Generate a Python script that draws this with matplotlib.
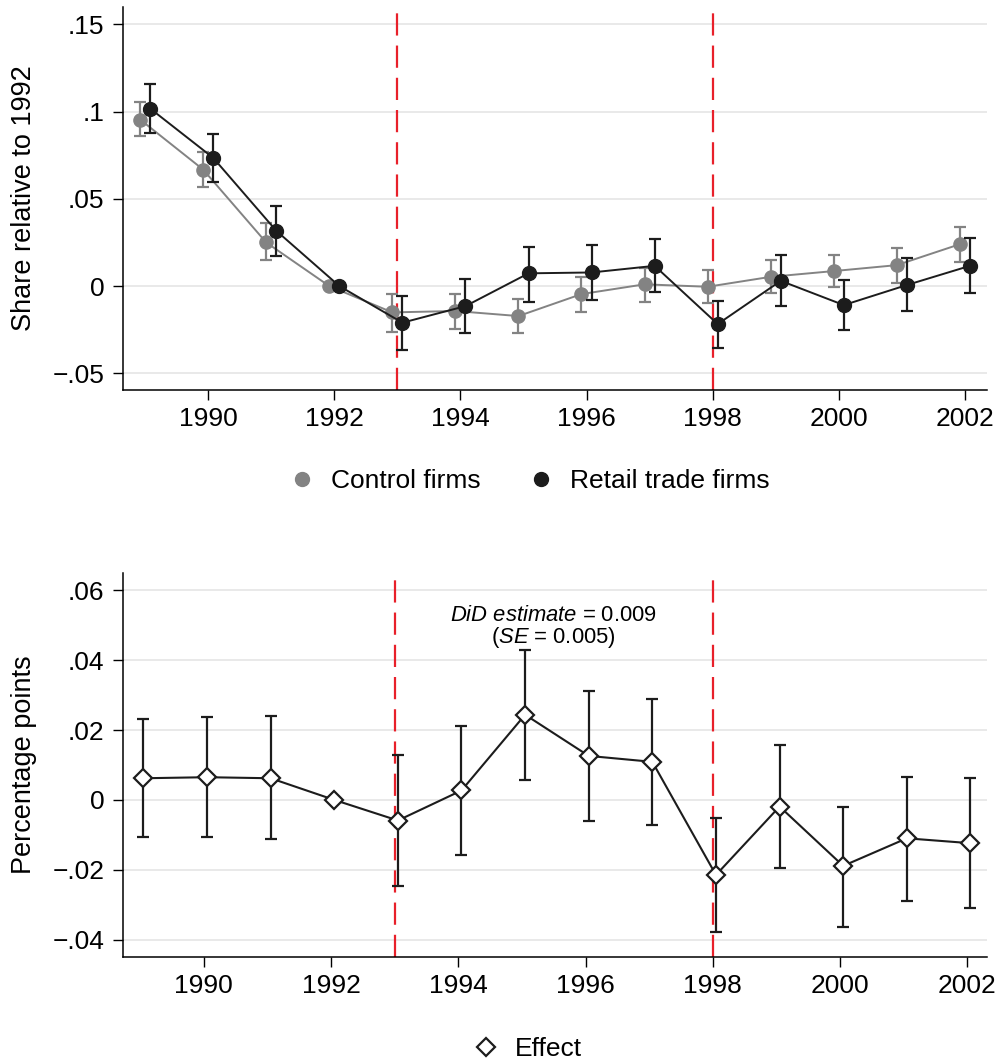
import matplotlib
matplotlib.use("Agg")
import matplotlib.pyplot as plt
from matplotlib.lines import Line2D
import numpy as np

plt.rcParams['font.family'] = ['Liberation Sans', 'DejaVu Sans']
plt.rcParams['mathtext.fontset'] = 'custom'
plt.rcParams['mathtext.rm'] = 'Liberation Sans'
plt.rcParams['mathtext.it'] = 'Liberation Sans:italic'

# data
years = np.arange(1989, 2003)

control = [0.0955, 0.0668, 0.0250, 0.0, -0.0151, -0.0143, -0.0172,
           -0.0046, 0.0010, -0.0004, 0.0053, 0.0086, 0.0120, 0.0240]
control_hi = [0.1056, 0.0769, 0.0359, 0.0, -0.0046, -0.0044, -0.0074,
              0.0053, 0.0105, 0.0092, 0.0149, 0.0178, 0.0216, 0.0340]
control_lo = [0.0859, 0.0569, 0.0149, 0.0, -0.0262, -0.0246, -0.0271,
              -0.0147, -0.0090, -0.0099, -0.0042, -0.0008, 0.0019, 0.0139]

retail = [0.1018, 0.0735, 0.0317, 0.0, -0.0210, -0.0115, 0.0073,
          0.0078, 0.0116, -0.0218, 0.0030, -0.0109, 0.0006, 0.0116]
retail_hi = [0.1157, 0.0874, 0.0458, 0.0, -0.0056, 0.0038, 0.0225,
             0.0235, 0.0269, -0.0086, 0.0178, 0.0034, 0.0159, 0.0273]
retail_lo = [0.0880, 0.0597, 0.0174, 0.0, -0.0367, -0.0271, -0.0090,
             -0.0080, -0.0036, -0.0353, -0.0113, -0.0252, -0.0141, -0.0038]

effect = [0.0062, 0.0065, 0.0062, 0.0, -0.0059, 0.0027, 0.0244,
          0.0126, 0.0109, -0.0215, -0.0019, -0.0189, -0.0110, -0.0124]
effect_hi = [0.0232, 0.0237, 0.0241, 0.0, 0.0129, 0.0212, 0.0428,
             0.0312, 0.0289, -0.0052, 0.0156, -0.0021, 0.0067, 0.0062]
effect_lo = [-0.0105, -0.0105, -0.0113, 0.0, -0.0248, -0.0159, 0.0057,
             -0.0059, -0.0073, -0.0379, -0.0196, -0.0365, -0.0289, -0.0310]

event_years = [1993, 1998]
xticks = [1990, 1992, 1994, 1996, 1998, 2000, 2002]
top_yticks = [-0.05, 0, 0.05, 0.1, 0.15]
top_ylabels = ["\u2212.05", "0", ".05", ".1", ".15"]
bot_yticks = [-0.04, -0.02, 0, 0.02, 0.04, 0.06]
bot_ylabels = ["\u2212.04", "\u2212.02", "0", ".02", ".04", ".06"]

GRAY = "#838383"
BLACK = "#1c1c1c"
RED = "#e8202a"
FS = 19


def style_axes(ax):
    for s in ["top", "right"]:
        ax.spines[s].set_visible(False)
    for s in ["left", "bottom"]:
        ax.spines[s].set_linewidth(1.1)
    ax.tick_params(axis="both", direction="out", length=7.5, width=1.0,
                   labelsize=FS, pad=5)
    ax.tick_params(axis="y", pad=6)
    ax.yaxis.grid(True, color="#e9e9e9", linewidth=1.4)
    ax.set_axisbelow(True)
    ax.set_xticks(xticks)
    for yr in event_years:
        ax.axvline(yr, ymin=0, ymax=0.985, color=RED, linewidth=1.6,
                   dashes=(10, 4.5), zorder=1)


fig = plt.figure(figsize=(10.02, 10.63), dpi=100)

# top panel
ax1 = fig.add_axes([0.1228, 0.6331, 0.8622, 0.3603])
style_axes(ax1)
yr = np.asarray(years, dtype=float)
c = np.asarray(control)
r = np.asarray(retail)
ax1.errorbar(yr - 0.08, c, yerr=[c - np.asarray(control_lo), np.asarray(control_hi) - c],
             color=GRAY, marker="o", markersize=9.5, linewidth=1.4,
             elinewidth=1.6, capsize=4.5, capthick=1.6, zorder=3)
ax1.errorbar(yr + 0.08, r, yerr=[r - np.asarray(retail_lo), np.asarray(retail_hi) - r],
             color=BLACK, marker="o", markersize=10, linewidth=1.4,
             elinewidth=1.6, capsize=4.5, capthick=1.6, zorder=4)
ax1.set_xlim(1988.65, 2002.35)
ax1.set_ylim(-0.0596, 0.16)
ax1.set_yticks(top_yticks)
ax1.set_yticklabels(top_ylabels)
ax1.set_ylabel("Share relative to 1992", fontsize=FS + 0.5, labelpad=11)

# bottom panel
ax2 = fig.add_axes([0.1228, 0.0997, 0.8622, 0.3613])
style_axes(ax2)
e = np.asarray(effect)
ax2.errorbar(yr + 0.05, e, yerr=[e - np.asarray(effect_lo), np.asarray(effect_hi) - e],
             color=BLACK, marker="D", markersize=9.5, markerfacecolor="white",
             markeredgewidth=1.6, linewidth=1.5, elinewidth=1.6, capsize=4.5,
             capthick=1.6, zorder=3)
ax2.set_xlim(1988.73, 2002.31)
ax2.set_ylim(-0.045, 0.065)
ax2.set_yticks(bot_yticks)
ax2.set_yticklabels(bot_ylabels)
ax2.set_ylabel("Percentage points", fontsize=FS + 0.5, labelpad=11)

ax2.text(1995.5, 0.0493,
         "$\\it{DiD\\ estimate}$ = 0.009\n($\\it{SE}$ = 0.005)",
         ha="center", va="center", multialignment="center",
         fontsize=15.8, linespacing=0.95)

# legends
h_ctrl = Line2D([], [], color=GRAY, marker="o", linestyle="none", markersize=10)
h_ret = Line2D([], [], color=BLACK, marker="o", linestyle="none", markersize=10)
fig.legend([h_ctrl, h_ret], ["Control firms", "Retail trade firms"],
           loc="center", bbox_to_anchor=(529 / 1002, 1 - 481 / 1063),
           ncol=2, frameon=False, fontsize=FS, handlelength=1.0,
           handletextpad=0.6, columnspacing=1.8)

h_eff = Line2D([], [], color=BLACK, marker="D", linestyle="none", markersize=9.5,
               markerfacecolor="white", markeredgewidth=1.6)
fig.legend([h_eff], ["Effect"], loc="center",
           bbox_to_anchor=(527 / 1002, 1 - 1049 / 1063), frameon=False,
           fontsize=FS, handlelength=1.0, handletextpad=0.6)

fig.savefig("out.png", dpi=100)
